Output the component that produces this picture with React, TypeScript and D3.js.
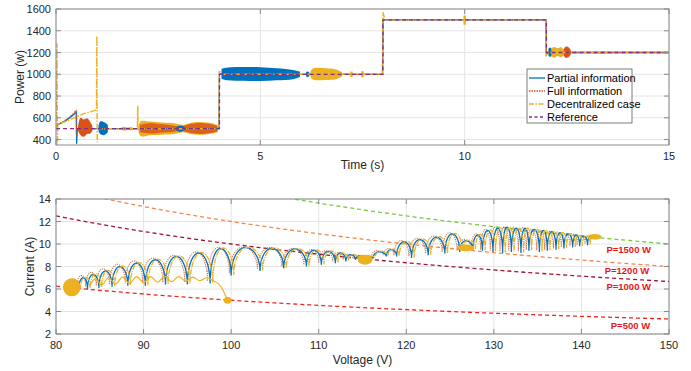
import React from 'react';
import * as d3 from 'd3';

// ---------------- Top panel data (Power vs Time) ----------------
const timeTicks = [0, 5, 10, 15];
const powerTicks = [400, 600, 800, 1000, 1200, 1400, 1600];

const refT = [0, 4, 4, 8, 8, 12, 12, 15];
const refP = [500, 500, 1000, 1000, 1500, 1500, 1200, 1200];

const decT = [0, 0.025, 0.035, 0.045, 0.1, 0.3, 0.5, 0.7, 0.9, 0.99, 1.0, 1.008, 1.02, 1.99, 2.0, 2.01, 3.99, 4.0, 4.04, 7.99, 8.0, 8.05, 11.99, 12.0, 12.05, 15];
const decP = [500, 1285, 355, 540, 548, 575, 610, 640, 662, 672, 1352, 375, 500, 500, 710, 500, 500, 1030, 1000, 1000, 1570, 1500, 1500, 1175, 1200, 1200];

const partT = [0, 0.04, 0.1, 0.2, 0.3, 0.4, 0.5, 0.505, 0.52, 3.99, 4.0, 4.04, 7.99, 8.0, 11.99, 12.0, 12.04, 15];
const partP = [500, 535, 545, 565, 590, 620, 650, 362, 500, 500, 1010, 1000, 1000, 1500, 1500, 1180, 1200, 1200];

const fullT = [0, 0.04, 0.1, 0.2, 0.3, 0.4, 0.49, 0.5, 0.55, 3.99, 4.0, 7.99, 8.0, 11.99, 12.0, 15];
const fullP = [500, 538, 550, 570, 598, 630, 665, 440, 500, 500, 1000, 1000, 1500, 1500, 1200, 1200];

// noise envelopes [t, low, high]
const fullBlobA = [[0.54, 480, 520], [0.6, 440, 600], [0.68, 425, 585], [0.76, 450, 595], [0.84, 455, 560], [0.89, 480, 525]];
const fullBlobB = [[2.05, 470, 535], [2.3, 455, 550], [2.6, 465, 540], [2.85, 470, 530], [3.05, 480, 520], [3.3, 460, 545], [3.55, 450, 552], [3.8, 462, 540], [3.95, 475, 525]];
const fullBlobC = [[12.42, 1170, 1230], [12.48, 1150, 1255], [12.55, 1160, 1245], [12.6, 1185, 1215]];

const partBlobA = [[1.04, 480, 520], [1.08, 450, 565], [1.18, 440, 560], [1.27, 470, 535]];
const partBlobB = [[2.95, 480, 520], [3.05, 470, 530], [3.15, 485, 515]];
const partBlobC = [[4.05, 960, 1050], [4.2, 945, 1062], [4.6, 940, 1066], [5.0, 938, 1065], [5.4, 945, 1055], [5.8, 955, 1040], [5.97, 975, 1025]];
const partBlobD = [[6.12, 980, 1020], [6.16, 975, 1025], [6.2, 985, 1015]];
const partBlobE = [[12.05, 1170, 1235], [12.1, 1160, 1245], [12.16, 1185, 1215], [12.3, 1165, 1240], [12.36, 1185, 1215]];

const decBlobA = [[1.6, 488, 512], [1.68, 482, 518], [1.76, 490, 510], [1.84, 485, 515], [1.88, 492, 508]];
const decBlobB = [[2.02, 470, 530], [2.08, 430, 570], [2.3, 440, 565], [2.6, 445, 556], [2.9, 452, 550], [3.1, 468, 535], [3.35, 448, 556], [3.6, 445, 560], [3.8, 455, 552], [3.96, 470, 530]];
const decBlobC = [[6.23, 970, 1030], [6.3, 950, 1055], [6.6, 948, 1056], [6.85, 955, 1045], [7.0, 980, 1020]];
const decBlobD = [[7.2, 975, 1025], [7.26, 975, 1025]];
const decBlobE = [[7.47, 972, 1028], [7.53, 972, 1028]];
const decBlobF = [[9.97, 1455, 1540], [10.03, 1455, 1540]];
const decBlobG = [[12.12, 1165, 1240], [12.2, 1150, 1250], [12.28, 1170, 1235], [12.35, 1155, 1250], [12.42, 1175, 1225]];
const decBlobH = [[13.1, 1193, 1207], [13.2, 1188, 1212], [13.45, 1189, 1211], [13.55, 1194, 1206]];

// ---------------- Bottom panel data (Current vs Voltage) ----------------
const voltTicks = [80, 90, 100, 110, 120, 130, 140, 150];
const currTicks = [2, 4, 6, 8, 10, 12, 14];

const powerLevels = [500, 1000, 1200, 1500];
const powerLabels = ['P=500 W', 'P=1000 W', 'P=1200 W', 'P=1500 W'];
const labelV = [145.6, 145.4, 145.2, 145.4];
const labelI = [2.8, 6.18, 7.62, 9.5];

const blueV = [81.8, 82.6, 83.6, 84.9, 86.4, 88.2, 90.2, 92.5, 95.0, 97.6, 100.0, 103.3, 106.0, 108.6, 110.3, 111.9, 113.1, 114.2, 115.2, 116.2, 117.7, 118.9, 120.6, 122.5, 124.4, 126.1, 127.6, 128.7, 129.9, 131.0, 132.0, 133.1, 134.0, 135.2, 136.1, 137.1, 138.0, 139.0, 139.8, 140.7, 141.4];
const blueFoot = [6.1, 6.0, 6.0, 6.1, 6.2, 6.3, 6.3, 6.4, 6.4, 6.5, 7.2, 7.6, 7.85, 8.0, 8.15, 8.3, 8.45, 8.6, 8.7, 8.7, 8.9, 8.9, 8.75, 9.0, 9.15, 9.3, 9.5, 9.4, 9.3, 9.2, 9.3, 9.2, 9.4, 9.3, 9.4, 9.5, 9.6, 9.7, 9.8, 9.9, 10.6];
const blueTop = [6.7, 7.0, 7.3, 7.6, 8.0, 8.3, 8.6, 8.9, 9.2, 9.6, 9.7, 9.62, 9.56, 9.45, 9.35, 9.2, 9.05, 8.95, 8.9, 9.3, 9.5, 10.2, 10.4, 10.6, 10.9, 10.3, 10.8, 11.2, 11.4, 11.5, 11.4, 11.4, 11.3, 11.2, 11.1, 11.0, 10.9, 10.8, 10.7, 10.7];

const orangeV = [81.8, 82.4, 83.4, 84.6, 86.1, 87.9, 89.9, 92.2, 94.7, 97.3, 99.8, 103.0, 105.8, 108.3, 110.0, 111.6, 112.8, 113.9, 115.0, 116.0, 117.4, 118.6, 120.3, 122.2, 124.1, 125.8, 127.4, 128.5, 129.6, 130.7, 131.7, 132.8, 133.7, 134.9, 135.8, 136.8, 137.7, 138.7, 139.5, 140.4, 141.4];
const orangeFoot = [6.1, 6.2, 6.2, 6.3, 6.4, 6.5, 6.5, 6.6, 6.6, 6.7, 7.4, 7.8, 8.0, 8.15, 8.3, 8.45, 8.6, 8.7, 8.8, 8.8, 9.0, 9.0, 8.9, 9.15, 9.3, 9.4, 9.6, 9.5, 9.4, 9.35, 9.4, 9.35, 9.5, 9.45, 9.5, 9.6, 9.7, 9.8, 9.9, 10.0, 10.6];
const orangeTop = [6.9, 7.2, 7.5, 7.8, 8.2, 8.5, 8.75, 9.0, 9.3, 9.7, 9.75, 9.68, 9.6, 9.5, 9.4, 9.25, 9.1, 9.0, 8.95, 9.4, 9.6, 10.3, 10.5, 10.7, 11.0, 10.4, 10.9, 11.3, 11.5, 11.55, 11.5, 11.45, 11.35, 11.25, 11.15, 11.05, 10.95, 10.85, 10.75, 10.75];

const yellowV = [81.8, 82.8, 83.9, 85.2, 86.7, 88.5, 90.5, 92.8, 95.3, 97.9, 100.3, 103.6, 106.3, 108.9, 110.6, 112.2, 113.4, 114.5, 115.4, 116.4, 117.9, 119.2, 120.9, 122.8, 124.7, 126.4, 127.9, 129.0, 130.2, 131.3, 132.3, 133.4, 134.3, 135.5, 136.4, 137.4, 138.3, 139.3, 140.1, 141.0, 141.6];
const yellowFoot = [6.1, 6.05, 6.05, 6.15, 6.25, 6.35, 6.35, 6.45, 6.45, 6.55, 7.25, 7.65, 7.9, 8.05, 8.2, 8.35, 8.5, 8.65, 8.7, 8.75, 8.95, 8.95, 8.8, 9.05, 9.2, 9.35, 9.55, 9.45, 9.35, 9.25, 9.35, 9.25, 9.45, 9.35, 9.45, 9.55, 9.65, 9.75, 9.85, 9.95, 10.6];
const yellowTop = [6.75, 7.05, 7.35, 7.65, 8.05, 8.35, 8.65, 8.95, 9.25, 9.65, 9.72, 9.65, 9.58, 9.48, 9.38, 9.22, 9.08, 8.98, 8.92, 9.35, 9.55, 10.25, 10.45, 10.65, 10.95, 10.35, 10.85, 11.25, 11.45, 11.52, 11.45, 11.42, 11.32, 11.22, 11.12, 11.02, 10.92, 10.82, 10.72, 10.72];

const tailV = [83.8, 84.5, 85.2, 86.0, 86.8, 87.6, 88.4, 89.2, 90.0, 90.8, 91.6, 92.4, 93.2, 94.0, 94.8, 95.6, 96.4, 97.2, 97.9, 98.5, 99.0, 99.3, 99.6];
const tailI = [6.3, 6.9, 6.35, 7.0, 6.45, 7.05, 6.5, 7.1, 6.55, 7.1, 6.6, 7.15, 6.65, 7.1, 6.7, 7.05, 6.75, 7.0, 6.75, 6.5, 6.0, 5.5, 5.0];

const blobV = [81.8, 99.6, 115.3, 126.8, 141.5];
const blobI = [6.15, 5.0, 8.6, 9.65, 10.65];
const blobRV = [1.0, 0.45, 0.85, 0.95, 0.8];
const blobRI = [0.8, 0.3, 0.45, 0.3, 0.25];

const C_BLUE = '#0072BD';
const C_ORANGE = '#D95319';
const C_YELLOW = '#EDB120';
const C_PURPLE = '#7E2F8E';
const P_COLORS = ['#F0261E', '#A2142F', '#F5874A', '#7ACB3A'];

const FONT = 'Liberation Sans, Arial, Helvetica, sans-serif';

export default function App() {
  const top = { l: 56, r: 669, t: 9, b: 145 };
  const bot = { l: 56, r: 669, t: 199, b: 334 };

  const xT = d3.scaleLinear().domain([0, 15]).range([top.l, top.r]);
  const yP = d3.scaleLinear().domain([350, 1600]).range([top.b, top.t]);
  const xV = d3.scaleLinear().domain([80, 150]).range([bot.l, bot.r]);
  const yI = d3.scaleLinear().domain([2, 14]).range([bot.b, bot.t]);

  const lineTP = (ts: number[], ps: number[]) =>
    d3.line<number>().x((_, i) => xT(ts[i])).y((_, i) => yP(ps[i]))(ts) || '';

  const blobArea = d3.area<number[]>()
    .x((d) => xT(d[0]))
    .y0((d) => yP(d[1]))
    .y1((d) => yP(d[2]))
    .curve(d3.curveCatmullRom);

  const archPath = (vs: number[], feet: number[], tops: number[]) => {
    const pts: [number, number][] = [];
    for (let k = 0; k < vs.length - 1; k++) {
      const v0 = vs[k], v1 = vs[k + 1];
      const f0 = feet[k], f1 = feet[k + 1];
      const mid = (v0 + v1) / 2, hw = (v1 - v0) / 2;
      const n = 18;
      for (let j = 0; j <= n; j++) {
        const th = Math.PI - (Math.PI * j) / n;
        const w = (1 + Math.cos(th)) / 2;
        const base = f0 + (f1 - f0) * w;
        const v = mid + hw * Math.cos(th);
        const cur = base + (tops[k] - base) * Math.sin(th);
        pts.push([xV(v), yI(cur)]);
      }
    }
    return d3.line()(pts) || '';
  };

  const tailPath = d3.line<number>()
    .x((_, i) => xV(tailV[i]))
    .y((_, i) => yI(tailI[i]))
    .curve(d3.curveCatmullRom)(tailV) || '';

  const vSamples = d3.range(80, 150.5, 0.5);
  const powerPath = (p: number) =>
    d3.line<number>().x((v) => xV(v)).y((v) => yI(p / v))(vSamples) || '';

  const axisColor = '#8a8a8a';
  const gridColor = '#e4e4e4';
  const textColor = '#262626';

  return (
    <svg width={691} height={371} style={{ position: 'absolute', left: 0, top: 0, background: '#fff' }} fontFamily={FONT}>
      <defs>
        <clipPath id="clipTop"><rect x={top.l} y={top.t} width={top.r - top.l} height={top.b - top.t} /></clipPath>
        <clipPath id="clipBot"><rect x={bot.l} y={bot.t} width={bot.r - bot.l} height={bot.b - bot.t} /></clipPath>
      </defs>
      <rect x={0} y={0} width={691} height={371} fill="#fff" />

      {/* ---------- TOP PANEL ---------- */}
      <g>
        {timeTicks.map((t) => (
          <line key={'gx' + t} x1={xT(t)} x2={xT(t)} y1={top.t} y2={top.b} stroke={gridColor} />
        ))}
        {powerTicks.map((p) => (
          <line key={'gy' + p} x1={top.l} x2={top.r} y1={yP(p)} y2={yP(p)} stroke={gridColor} />
        ))}
        <g clipPath="url(#clipTop)">
          <path d={blobArea(decBlobB as any) || ''} fill={C_YELLOW} />
          <path d={blobArea(fullBlobB as any) || ''} fill={C_ORANGE} opacity={0.85} />
          <path d={blobArea(partBlobB as any) || ''} fill={C_BLUE} />
          <path d={blobArea(decBlobA as any) || ''} fill={C_YELLOW} />
          <path d={lineTP(partT, partP)} fill="none" stroke={C_BLUE} strokeWidth={1.3} />
          <path d={lineTP(fullT, fullP)} fill="none" stroke={C_ORANGE} strokeWidth={1.3} strokeDasharray="1.5 1" />
          <path d={blobArea(fullBlobA as any) || ''} fill={C_ORANGE} />
          <path d={blobArea(partBlobA as any) || ''} fill={C_BLUE} />
          <path d={blobArea(partBlobC as any) || ''} fill={C_BLUE} />
          <path d={blobArea(partBlobD as any) || ''} fill={C_BLUE} />
          <path d={blobArea(decBlobC as any) || ''} fill={C_YELLOW} />
          <path d={blobArea(decBlobD as any) || ''} fill={C_YELLOW} />
          <path d={blobArea(decBlobE as any) || ''} fill={C_YELLOW} />
          <path d={blobArea(decBlobF as any) || ''} fill={C_YELLOW} />
          <path d={blobArea(partBlobE as any) || ''} fill={C_BLUE} />
          <path d={blobArea(decBlobG as any) || ''} fill={C_YELLOW} />
          <path d={blobArea(fullBlobC as any) || ''} fill={C_ORANGE} />
          <path d={blobArea(decBlobH as any) || ''} fill={C_YELLOW} />
          <path d={lineTP(decT, decP)} fill="none" stroke={C_YELLOW} strokeWidth={1.4} strokeDasharray="6 1.5 1.5 1.5" />
          <path d={lineTP(refT, refP)} fill="none" stroke={C_PURPLE} strokeWidth={1.3} strokeDasharray="4 3" />
        </g>
        <rect x={top.l} y={top.t} width={top.r - top.l} height={top.b - top.t} fill="none" stroke={axisColor} />
        {timeTicks.map((t) => (
          <g key={'tx' + t}>
            <line x1={xT(t)} x2={xT(t)} y1={top.b} y2={top.b - 5} stroke={axisColor} />
            <line x1={xT(t)} x2={xT(t)} y1={top.t} y2={top.t + 5} stroke={axisColor} />
            <text x={xT(t)} y={top.b + 15} textAnchor="middle" fontSize={11} fill={textColor}>{t}</text>
          </g>
        ))}
        {powerTicks.map((p) => (
          <g key={'ty' + p}>
            <line x1={top.l} x2={top.l + 5} y1={yP(p)} y2={yP(p)} stroke={axisColor} />
            <line x1={top.r} x2={top.r - 5} y1={yP(p)} y2={yP(p)} stroke={axisColor} />
            <text x={top.l - 5} y={yP(p) + 4} textAnchor="end" fontSize={11} fill={textColor}>{p}</text>
          </g>
        ))}
        <text x={(top.l + top.r) / 2} y={top.b + 24} textAnchor="middle" fontSize={12} fill={textColor}>Time (s)</text>
        <text transform={`translate(${24},${(top.t + top.b) / 2}) rotate(-90)`} textAnchor="middle" fontSize={12} fill={textColor}>Power (w)</text>

        {/* legend */}
        <g>
          <rect x={527} y={69} width={105} height={54} fill="#fff" stroke="#5a5a5a" strokeWidth={0.8} />
          <line x1={529} x2={545} y1={78} y2={78} stroke={C_BLUE} strokeWidth={1.3} />
          <line x1={529} x2={545} y1={91} y2={91} stroke={C_ORANGE} strokeWidth={1.3} strokeDasharray="1.5 1" />
          <line x1={529} x2={545} y1={104} y2={104} stroke={C_YELLOW} strokeWidth={1.4} strokeDasharray="5 1.5 1.5 1.5" />
          <line x1={529} x2={545} y1={117} y2={117} stroke={C_PURPLE} strokeWidth={1.3} strokeDasharray="3 2.5" />
          <text x={547} y={82} fontSize={11} fill="#000">Partial information</text>
          <text x={547} y={95} fontSize={11} fill="#000">Full information</text>
          <text x={547} y={108} fontSize={11} fill="#000">Decentralized case</text>
          <text x={547} y={121} fontSize={11} fill="#000">Reference</text>
        </g>
      </g>

      {/* ---------- BOTTOM PANEL ---------- */}
      <g>
        {voltTicks.map((v) => (
          <line key={'gv' + v} x1={xV(v)} x2={xV(v)} y1={bot.t} y2={bot.b} stroke={gridColor} />
        ))}
        {currTicks.map((c) => (
          <line key={'gc' + c} x1={bot.l} x2={bot.r} y1={yI(c)} y2={yI(c)} stroke={gridColor} />
        ))}
        <g clipPath="url(#clipBot)">
          {powerLevels.map((p, i) => (
            <path key={'pl' + p} d={powerPath(p)} fill="none" stroke={P_COLORS[i]} strokeWidth={1.3} strokeDasharray="4 3" />
          ))}
          <path d={archPath(orangeV, orangeFoot, orangeTop)} fill="none" stroke={C_ORANGE} strokeWidth={1.1} strokeDasharray="1.2 1" opacity={0.8} />
          <path d={archPath(blueV, blueFoot, blueTop)} fill="none" stroke={C_BLUE} strokeWidth={1.3} />
          <path d={archPath(yellowV, yellowFoot, yellowTop)} fill="none" stroke={C_YELLOW} strokeWidth={1.3} strokeDasharray="5 1 1 1" />
          <path d={tailPath} fill="none" stroke={C_YELLOW} strokeWidth={1.2} />
          {blobV.map((v, i) => (
            <ellipse key={'b' + i} cx={xV(v)} cy={yI(blobI[i])}
              rx={Math.abs(xV(v + blobRV[i]) - xV(v))} ry={Math.abs(yI(blobI[i] + blobRI[i]) - yI(blobI[i]))}
              fill={C_YELLOW} />
          ))}
        </g>
        <rect x={bot.l} y={bot.t} width={bot.r - bot.l} height={bot.b - bot.t} fill="none" stroke={axisColor} />
        {voltTicks.map((v) => (
          <g key={'tv' + v}>
            <line x1={xV(v)} x2={xV(v)} y1={bot.b} y2={bot.b - 5} stroke={axisColor} />
            <line x1={xV(v)} x2={xV(v)} y1={bot.t} y2={bot.t + 5} stroke={axisColor} />
            <text x={xV(v)} y={bot.b + 15} textAnchor="middle" fontSize={11} fill={textColor}>{v}</text>
          </g>
        ))}
        {currTicks.map((c) => (
          <g key={'tc' + c}>
            <line x1={bot.l} x2={bot.l + 5} y1={yI(c)} y2={yI(c)} stroke={axisColor} />
            <line x1={bot.r} x2={bot.r - 5} y1={yI(c)} y2={yI(c)} stroke={axisColor} />
            <text x={bot.l - 5} y={yI(c) + 4} textAnchor="end" fontSize={11} fill={textColor}>{c}</text>
          </g>
        ))}
        {powerLabels.map((s, i) => (
          <text key={s} x={xV(labelV[i])} y={yI(labelI[i]) + 3.5} textAnchor="middle" fontSize={9.5} fontWeight="bold" fill="#E8141B">{s}</text>
        ))}
        <text x={(bot.l + bot.r) / 2} y={bot.b + 30} textAnchor="middle" fontSize={12} fill={textColor}>Voltage (V)</text>
        <text transform={`translate(${34},${(bot.t + bot.b) / 2}) rotate(-90)`} textAnchor="middle" fontSize={12} fill={textColor}>Current (A)</text>
      </g>
    </svg>
  );
}
